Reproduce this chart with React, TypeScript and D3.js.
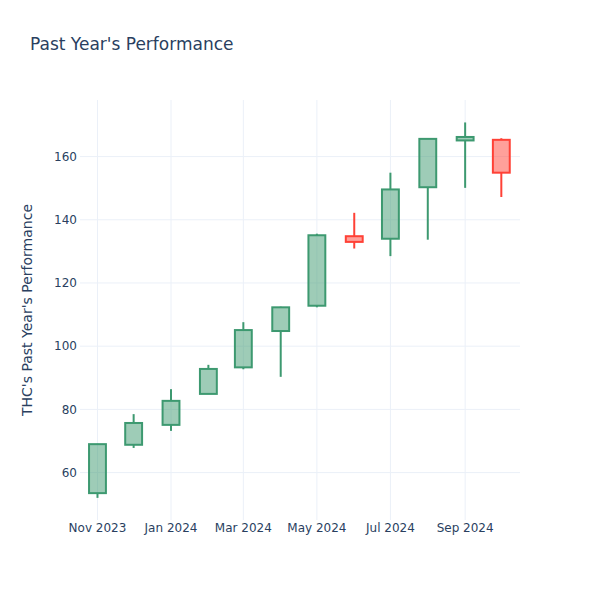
import React from "react";
import * as d3 from "d3";

const dates = ["2023-11-01","2023-12-01","2024-01-01","2024-02-01","2024-03-01","2024-04-01","2024-05-01","2024-06-01","2024-07-01","2024-08-01","2024-09-01","2024-10-01"];
const opens = [53.5, 68.8, 75.1, 84.9, 93.3, 104.8, 112.8, 134.8, 134.0, 150.3, 165.1, 165.3];
const highs = [69.1, 78.5, 86.4, 94.1, 107.6, 112.5, 135.6, 142.2, 154.9, 165.8, 170.8, 165.8];
const lows = [52.0, 67.8, 73.2, 84.9, 92.7, 90.3, 112.3, 130.9, 128.5, 133.7, 150.1, 147.2];
const closes = [69.0, 75.7, 82.7, 92.8, 105.1, 112.3, 135.1, 133.0, 149.6, 165.6, 166.2, 154.9];
const yTicks = [60, 80, 100, 120, 140, 160];
const xTickDates = ["2023-11-01","2024-01-01","2024-03-01","2024-05-01","2024-07-01","2024-09-01"];

const W = 600, H = 600;
const M = { l: 80, r: 80, t: 100, b: 80 };
const FONT = "'DejaVu Sans', 'Open Sans', sans-serif";
const TXT = "#2a3f5f";
const GRID = "#EBF0F8";
const INC = "#3D9970";
const DEC = "#FF4136";

const parse = (s: string) => new Date(s + "T00:00:00");

export default function App() {
  const x = d3.scaleTime()
    .domain([new Date(2023, 9, 17, 12), new Date(2024, 9, 16, 12)])
    .range([M.l, W - M.r]);
  const y = d3.scaleLinear().domain([45.0, 177.9]).range([H - M.b, M.t]);
  const fmt = d3.timeFormat("%b %Y");

  const candles = dates.map((d, i) => ({
    date: parse(d), o: opens[i], h: highs[i], l: lows[i], c: closes[i],
  }));

  return (
    <svg width={W} height={H} style={{ position: "absolute", left: 0, top: 0, background: "#fff" }}>
      <rect x={0} y={0} width={W} height={H} fill="#fff" />
      {/* grid */}
      {xTickDates.map((d) => (
        <line key={d} x1={x(parse(d))} x2={x(parse(d))} y1={M.t} y2={H - M.b} stroke={GRID} strokeWidth={1} />
      ))}
      {yTicks.map((t) => (
        <line key={t} x1={M.l} x2={W - M.r} y1={y(t)} y2={y(t)} stroke={GRID} strokeWidth={1} />
      ))}
      {/* candles */}
      {candles.map((k, i) => {
        const inc = k.c >= k.o;
        const col = inc ? INC : DEC;
        const cx = x(k.date);
        const hw = x(d3.timeDay.offset(k.date, 7)) - cx;
        const top = y(Math.max(k.o, k.c));
        const bot = y(Math.min(k.o, k.c));
        return (
          <g key={i}>
            <line x1={cx} x2={cx} y1={y(k.h)} y2={top} stroke={col} strokeWidth={2} />
            <line x1={cx} x2={cx} y1={bot} y2={y(k.l)} stroke={col} strokeWidth={2} />
            <rect x={cx - hw} y={top} width={2 * hw} height={Math.max(bot - top, 0.5)}
              fill={col} fillOpacity={0.5} stroke={col} strokeWidth={2} />
          </g>
        );
      })}
      {/* y tick labels */}
      {yTicks.map((t) => (
        <text key={t} x={77} y={y(t)} dy="0.35em" textAnchor="end" fontFamily={FONT} fontSize={12} fill={TXT}>{t}</text>
      ))}
      {/* x tick labels */}
      {xTickDates.map((d) => (
        <text key={d} x={x(parse(d))} y={532} textAnchor="middle" fontFamily={FONT} fontSize={12} fill={TXT}>{fmt(parse(d))}</text>
      ))}
      {/* titles */}
      <text x={30} y={50} fontFamily={FONT} fontSize={17} fill={TXT}>Past Year's Performance</text>
      <text transform={`translate(32, ${(M.t + H - M.b) / 2}) rotate(-90)`} textAnchor="middle" fontFamily={FONT} fontSize={14} fill={TXT}>THC's Past Year's Performance</text>
    </svg>
  );
}
